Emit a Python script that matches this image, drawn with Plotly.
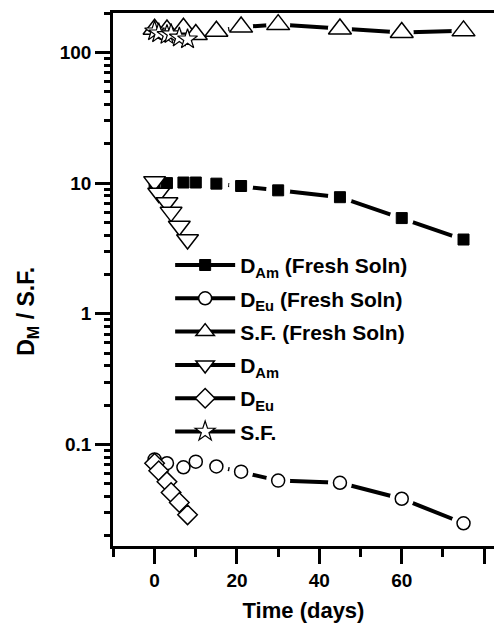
import plotly.graph_objects as go

# ---------------- data ----------------
days_fresh = [0, 3, 7, 10, 15, 21, 30, 45, 60, 75]
d_am_fresh = [10.0, 10.0, 10.1, 10.1, 9.9, 9.5, 8.8, 7.8, 5.4, 3.7]
d_eu_fresh = [0.077, 0.072, 0.067, 0.074, 0.068, 0.062, 0.053, 0.051, 0.0385, 0.025]
sf_fresh = [150, 148, 153, 137, 145, 156, 163, 151, 142, 146]

days = [0, 1, 3, 4, 6, 8]
d_am = [10.3, 8.4, 7.1, 6.0, 4.7, 3.7]
d_eu = [0.072, 0.063, 0.052, 0.043, 0.036, 0.029]
sf = [145, 140, 136, 138, 130, 126]

x_ticks = [0, 20, 40, 60, 80]
y_ticks = [0.1, 1, 10, 100]
y_ticktext = ["0.1", "1", "10", "100"]
y_minor = [k * 10.0 ** e for e in range(-2, 3) for k in range(2, 10)]

legend_names = ["D<sub>Am</sub> (Fresh Soln)", "D<sub>Eu</sub> (Fresh Soln)", "S.F. (Fresh Soln)",
                "D<sub>Am</sub>", "D<sub>Eu</sub>", "S.F."]

# ---------------- styles ----------------
FONT = "Liberation Sans, Arial, sans-serif"
BLACK = "black"
LW = 4
Y_RANGE = [-1.776, 2.301]

fresh = [
    (days_fresh, d_am_fresh, dict(symbol="square", size=11, color=BLACK, line=dict(color=BLACK, width=1))),
    (days_fresh, d_eu_fresh, dict(symbol="circle", size=13, color="white", line=dict(color=BLACK, width=1.5))),
    (days_fresh, sf_fresh, dict(symbol="triangle-up", size=20, color="white", line=dict(color=BLACK, width=1.5))),
]
batch = [
    (days, d_am, dict(symbol="triangle-down", size=19, color="white", line=dict(color=BLACK, width=1.5))),
    (days, d_eu, dict(symbol="diamond", size=15, color="white", line=dict(color=BLACK, width=1.5))),
    (days, sf, dict(symbol="star", size=15, color="white", line=dict(color=BLACK, width=1.2))),
]

fig = go.Figure()

# connecting lines of the fresh-solution series
for xs, ys, m in fresh:
    fig.add_trace(go.Scatter(x=xs, y=ys, mode="lines", line=dict(color=BLACK, width=LW),
                             showlegend=False, hoverinfo="skip"))
# white halos giving the gap between line and symbol
for xs, ys, m in fresh:
    fig.add_trace(go.Scatter(x=xs, y=ys, mode="markers",
                             marker=dict(symbol="circle", size=24, color="white", line=dict(width=0)),
                             showlegend=False, hoverinfo="skip"))
# symbols
for xs, ys, m in fresh + batch:
    fig.add_trace(go.Scatter(x=xs, y=ys, mode="markers", marker=m, showlegend=False))
# legend entries
for i, ((xs, ys, m), name) in enumerate(zip(fresh + batch, legend_names)):
    fig.add_trace(go.Scatter(x=[None], y=[None], mode="lines+markers", name=name,
                             line=dict(color=BLACK, width=LW), marker=dict(m),
                             legendgroup="g%d" % i))
# empty trace carrying the minor-tick axis
fig.add_trace(go.Scatter(x=[None], y=[None], yaxis="y2", showlegend=False, hoverinfo="skip"))

tickfont = dict(family=FONT, size=19, color=BLACK, weight="bold")

fig.update_layout(
    xaxis=dict(
        showline=True, linecolor=BLACK, linewidth=2.5, showgrid=False, zeroline=False,
        ticks="outside", tickcolor=BLACK, tickwidth=2.5, tickfont=tickfont,
        range=[-10.1, 82.4], tickvals=x_ticks, ticklen=15, mirror=True,
        minor=dict(ticks="outside", dtick=10, tick0=0, ticklen=8, tickwidth=2.5, tickcolor=BLACK),
        title=dict(text="Time (days)", font=dict(family=FONT, size=22, color=BLACK, weight="bold"),
                   standoff=14),
    ),
    yaxis=dict(
        type="log", range=Y_RANGE, tickvals=y_ticks, ticktext=y_ticktext,
        showline=True, linecolor=BLACK, linewidth=2.5, showgrid=False, zeroline=False,
        ticks="outside", ticklen=15, tickwidth=3, tickcolor=BLACK, tickfont=tickfont,
        ticksuffix="\u00a0\u00a0",
    ),
    yaxis2=dict(
        type="log", range=Y_RANGE, overlaying="y", side="left",
        showline=False, showgrid=False, zeroline=False,
        tickvals=y_minor, showticklabels=False,
        ticks="outside", ticklen=8, tickwidth=3, tickcolor=BLACK,
    ),
)

fig.add_annotation(
    text="D<sub>M</sub> / S.F.", textangle=-90, xref="paper", yref="paper",
    x=-0.225, y=0.44, xanchor="center", yanchor="middle", showarrow=False,
    font=dict(family=FONT, size=23, color=BLACK, weight="bold"),
)

fig.update_layout(
    width=494, height=624, margin=dict(l=113, r=0, t=13, b=78),
    paper_bgcolor="white", plot_bgcolor="white",
    showlegend=True,
    legend=dict(x=0.15, y=0.565, xanchor="left", yanchor="top", bgcolor="rgba(0,0,0,0)",
                borderwidth=0, tracegroupgap=3, itemwidth=60,
                font=dict(family=FONT, size=21, color=BLACK, weight="bold")),
)

fig.write_html("out.html")
